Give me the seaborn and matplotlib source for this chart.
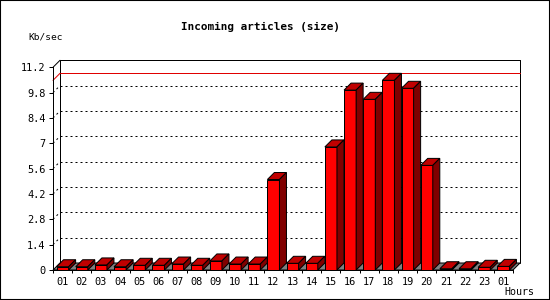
import numpy as np
import pandas as pd
import matplotlib
matplotlib.use("Agg")
import matplotlib.pyplot as plt
import seaborn as sns
from matplotlib.patches import Polygon, Rectangle
from matplotlib.lines import Line2D
from matplotlib.transforms import IdentityTransform

# ---- data ----
hour_labels = ["01", "02", "03", "04", "05", "06", "07", "08", "09", "10", "11", "12",
               "13", "14", "15", "16", "17", "18", "19", "20", "21", "22", "23", "01"]
kb_per_sec = [0.18, 0.18, 0.28, 0.18, 0.26, 0.26, 0.33, 0.26, 0.50, 0.33, 0.33, 5.00,
              0.37, 0.37, 6.80, 9.94, 9.43, 10.48, 10.04, 5.78, 0.07, 0.07, 0.15, 0.20]
y_ticks = [0, 1.4, 2.8, 4.2, 5.6, 7, 8.4, 9.8, 11.2]
y_tick_labels = ["0", "1.4", "2.8", "4.2", "5.6", "7", "8.4", "9.8", "11.2"]
title = "Incoming articles (size)"
y_unit = "Kb/sec"
x_unit = "Hours"

sns.set_style("white")
plt.rcParams['font.family'] = ['DejaVu Sans Mono', 'DejaVu Sans']

W, H = 550, 300
fig = plt.figure(figsize=(W / 100, H / 100), dpi=100)
fig.patch.set_facecolor("white")
ax = fig.add_axes([53 / W, 30 / H, 460 / W, 202.7 / H])

df = pd.DataFrame({"slot": range(len(kb_per_sec)), "kb": kb_per_sec})
sns.barplot(data=df, x="slot", y="kb", color="#ff0000", saturation=1, width=0.63,
            edgecolor="black", linewidth=0.72, ax=ax, zorder=3)

ax.set_xlim(-0.5, len(kb_per_sec) - 0.5)
ax.set_ylim(y_ticks[0], y_ticks[-1])
ax.set_xlabel("")
ax.set_ylabel("")
ax.set_yticks(y_ticks, y_tick_labels)
ax.set_xticks(range(len(hour_labels)), hour_labels)
ax.set_xticks(np.arange(-0.5, len(hour_labels), 1), minor=True)
ax.tick_params(axis='x', which='major', bottom=True, length=0, pad=5, labelsize=7.4,
               labelcolor='black')
ax.tick_params(axis='x', which='minor', bottom=True, length=2.2, width=0.72,
               direction='out', color='black')
ax.tick_params(axis='y', which='major', left=True, length=2.9, width=0.72, pad=2.5,
               labelsize=7.4, color='black', labelcolor='black', direction='out')
ax.patch.set_visible(False)
for s in ['top', 'right']:
    ax.spines[s].set_visible(False)
for s in ['left', 'bottom']:
    ax.spines[s].set_linewidth(0.72)
    ax.spines[s].set_color('black')
    ax.spines[s].set_zorder(4)

# ---- pseudo 3D decoration ----
to_px = ax.transData.transform
d = np.array([7.0, 7.0])
ident = IdentityTransform()
xl, xr = -0.5, len(kb_per_sec) - 0.5
ytop = y_ticks[-1]


def seg(p, q, **kw):
    ln = Line2D([p[0], q[0]], [p[1], q[1]], transform=ident, clip_on=False, **kw)
    ax.add_line(ln)


bars = list(ax.patches)

# back wall outline
tl = to_px((xl, ytop)); tr = to_px((xr, ytop))
bl = to_px((xl, 0)); br = to_px((xr, 0))
seg(tl, tl + d, color='black', lw=0.72, zorder=0.5)
seg(tl + d, tr + d, color='black', lw=0.72, zorder=0.5)
seg(bl + d, tl + d, color='black', lw=0.72, zorder=0.5)
seg(br + d, tr + d, color='black', lw=0.72, zorder=0.5)

# dotted grid on back wall
for v in y_ticks[1:-1]:
    a = to_px((xl, v)); b = to_px((xr, v))
    seg(a, a + d, color='black', lw=0.72, linestyle=(0, (2, 3)), zorder=0.5)
    seg(a + d, b + d, color='black', lw=0.72, linestyle=(0, (2, 3)), zorder=0.5)

# max line
vmax = max(kb_per_sec)
a = to_px((xl, vmax)); b = to_px((xr, vmax))
seg(a, a + d, color='#e00000', lw=0.72, zorder=0.6)
seg(a + d, b + d, color='#e00000', lw=0.72, zorder=0.6)

# floor
floor = Polygon([bl, br, br + d, bl + d], closed=True, transform=ident, clip_on=False,
                facecolor='#808080', edgecolor='black', lw=0.72, zorder=1)
ax.add_patch(floor)

# bar top and side faces
for p in bars:
    x0 = p.get_x(); w = p.get_width(); h = p.get_height()
    p0 = to_px((x0, h)); p1 = to_px((x0 + w, h)); b1 = to_px((x0 + w, 0))
    top = Polygon([p0, p1, p1 + d, p0 + d], closed=True, transform=ident, clip_on=False,
                  facecolor='#c00000', edgecolor='black', lw=0.72, zorder=3)
    side = Polygon([b1, p1, p1 + d, b1 + d], closed=True, transform=ident, clip_on=False,
                   facecolor='#800000', edgecolor='black', lw=0.72, zorder=3)
    ax.add_patch(top)
    ax.add_patch(side)

# texts
fig.text(260.5 / W, 1 - 27 / H, title, ha='center', va='center', fontsize=7.9,
         fontweight='bold', color='black')
fig.text(28 / W, 1 - 37 / H, y_unit, ha='left', va='center', fontsize=6.8, color='black')
fig.text(504 / W, 1 - 291.7 / H, x_unit, ha='left', va='center', fontsize=7.2, color='black')

# figure border
fig.patches.append(Rectangle((0, 0), 1, 1, transform=fig.transFigure, fill=False,
                             edgecolor='black', lw=1.5))

fig.savefig("out.png", dpi=100, facecolor='white')
